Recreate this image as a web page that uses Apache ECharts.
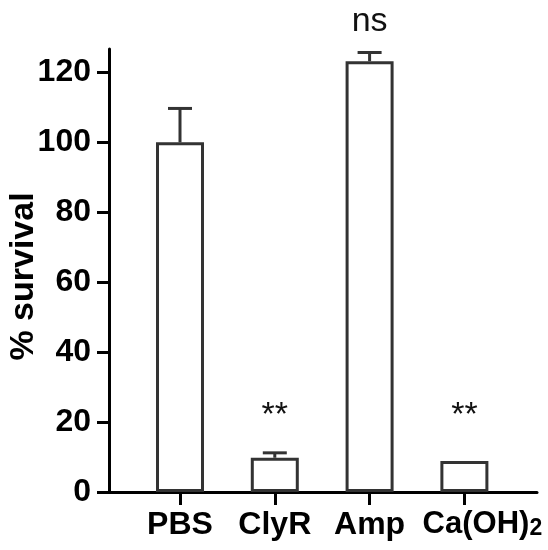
<!DOCTYPE html>
<html>
<head>
<meta charset="utf-8">
<script src="https://cdn.jsdelivr.net/npm/echarts@6/dist/echarts.min.js"></script>
<style>
  html, body { margin: 0; padding: 0; background: #fff; }
  #chart { width: 548px; height: 550px; }
</style>
</head>
<body>
<div id="chart"></div>
<script>
// groups on the x axis (positions 1..4)
const categories = ['PBS', 'ClyR', 'Amp', 'Ca(OH)2'];
// mean % survival
const survival = [100, 9.8, 123.2, 8.9];
// upper error (sem)
const sem = [9.7, 1.4, 2.5, 0];
// significance marks and the value where they sit
const marks = ['', '**', 'ns', '**'];
const markY = [null, 21.8, 134.5, 21.8];
const yTicks = [0, 20, 40, 60, 80, 100, 120];

const barData = categories.map((c, i) => [i + 1, survival[i]]);
const errData = categories.map((c, i) => [i + 1, survival[i], sem[i]]).filter(d => d[2] > 0);
const markData = categories.map((c, i) => ({ value: [i + 1, markY[i]], label: { formatter: marks[i] } }))
  .filter(d => d.value[1] != null);

const font = '"Liberation Sans", Arial, sans-serif';
const ink = '#333';

const option = {
  animation: false,
  grid: { left: 109, right: 11, top: 49, bottom: 58, outerBoundsMode: 'none', containLabel: false },
  xAxis: {
    type: 'value',
    min: 0.251,
    max: 4.766,
    splitLine: { show: false },
    axisLine: { lineStyle: { color: '#000', width: 3 } },
    axisTick: { customValues: [1, 2, 3, 4], length: 13, lineStyle: { color: '#000', width: 3 } },
    axisLabel: {
      customValues: [1, 2, 3, 4],
      margin: 17,
      color: '#000',
      fontFamily: font,
      fontWeight: 'bold',
      fontSize: 32,
      formatter: function (v) {
        const name = categories[Math.round(v) - 1];
        if (name === 'Ca(OH)2') return '{ca|Ca(OH)}{sub|2}';
        return name;
      },
      rich: {
        ca: { fontFamily: font, fontWeight: 'bold', fontSize: 31, color: '#000', padding: [0, 0, 0, 36] },
        sub: { fontFamily: font, fontWeight: 'bold', fontSize: 23, color: '#000', verticalAlign: 'bottom', padding: [6, 0, 0, 0] }
      }
    }
  },
  yAxis: {
    type: 'value',
    min: 0,
    max: 126.7,
    name: '% survival',
    nameLocation: 'middle',
    nameGap: 68,
    nameMoveOverlap: false,
    nameTextStyle: { fontFamily: font, fontWeight: 'bold', fontSize: 34, color: '#000', padding: [0, 12, 0, 0] },
    splitLine: { show: false },
    axisLine: { show: true, lineStyle: { color: '#000', width: 3 } },
    axisTick: { show: true, customValues: yTicks, length: 12, lineStyle: { color: '#000', width: 3 } },
    axisLabel: { customValues: yTicks, margin: 18, color: '#000', fontFamily: font, fontWeight: 'bold', fontSize: 32 }
  },
  series: [
    {
      type: 'bar',
      data: barData,
      barWidth: 48,
      z: 1,
      itemStyle: { color: '#fff', borderColor: ink, borderWidth: 3 }
    },
    {
      // error bars
      type: 'custom',
      data: errData,
      z: 2,
      renderItem: function (params, api) {
        const x = api.value(0), y = api.value(1), e = api.value(2);
        const base = api.coord([x, y]);
        const top = api.coord([x, y + e]);
        const st = { stroke: ink, lineWidth: 3 };
        return {
          type: 'group',
          children: [
            { type: 'line', shape: { x1: base[0], y1: base[1], x2: top[0], y2: top[1] }, style: st },
            { type: 'line', shape: { x1: top[0] - 12, y1: top[1], x2: top[0] + 12, y2: top[1] }, style: st }
          ]
        };
      }
    },
    {
      // significance labels
      type: 'scatter',
      data: markData,
      symbolSize: 0,
      clip: false,
      z: 3,
      itemStyle: { opacity: 1 },
      label: {
        show: true,
        position: 'inside',
        color: '#111',
        fontFamily: font,
        fontSize: 34
      }
    }
  ]
};

const chart = echarts.init(document.getElementById('chart'));
chart.setOption(option);
</script>
</body>
</html>
